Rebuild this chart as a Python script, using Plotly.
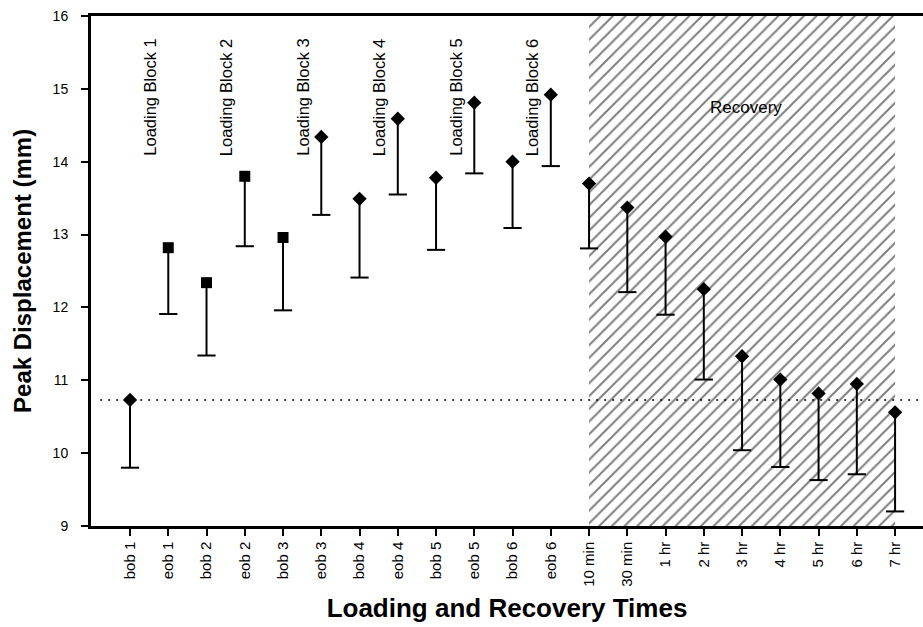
import plotly.graph_objects as go

# Time points along the loading / recovery protocol
categories = ["bob 1", "eob 1", "bob 2", "eob 2", "bob 3", "eob 3",
              "bob 4", "eob 4", "bob 5", "eob 5", "bob 6", "eob 6",
              "10 min", "30 min", "1 hr", "2 hr", "3 hr", "4 hr",
              "5 hr", "6 hr", "7 hr"]

# Mean peak displacement (mm) and lower end of the error bar (mm)
peak_mean = [10.73, 12.82, 12.34, 13.80, 12.96, 14.34,
             13.49, 14.59, 13.78, 14.81, 14.00, 14.92,
             13.70, 13.37, 12.97, 12.25, 11.33, 11.01,
             10.82, 10.95, 10.56]
peak_low = [9.80, 11.91, 11.34, 12.84, 11.96, 13.27,
            12.41, 13.55, 12.79, 13.84, 13.09, 13.94,
            12.81, 12.21, 11.90, 11.01, 10.04, 9.81,
            9.63, 9.71, 9.20]

# Marker style per point
marker_symbols = ["diamond", "square", "square", "square", "square", "diamond",
                  "diamond", "diamond", "diamond", "diamond", "diamond", "diamond",
                  "diamond", "diamond", "diamond", "diamond", "diamond", "diamond",
                  "diamond", "diamond", "diamond"]

block_labels = ["Loading Block 1", "Loading Block 2", "Loading Block 3",
                "Loading Block 4", "Loading Block 5", "Loading Block 6"]
recovery_label = "Recovery"
x_title = "Loading and Recovery Times"
y_title = "Peak Displacement (mm)"

baseline = peak_mean[0]
xi = list(range(len(categories)))
rec_start = categories.index("10 min")
rec_end = categories.index("7 hr")

fig = go.Figure()

# Hatched recovery period
fig.add_trace(go.Scatter(
    x=[rec_start, rec_end, rec_end, rec_start, rec_start],
    y=[9, 9, 16, 16, 9],
    mode="lines", fill="toself", line=dict(width=0, color="rgba(0,0,0,0)"),
    fillcolor="white",
    fillpattern=dict(shape="/", fgcolor="black", bgcolor="white",
                     size=9, solidity=0.22),
    hoverinfo="skip", showlegend=False))

# Baseline (bob 1) reference line
fig.add_trace(go.Scatter(
    x=[-0.78, 20.73], y=[baseline, baseline], mode="lines",
    line=dict(color="black", width=1.6, dash="2px,6px"),
    hoverinfo="skip", showlegend=False))

# Lower error bar stems
stem_x, stem_y = [], []
for i, (m, lo) in enumerate(zip(peak_mean, peak_low)):
    stem_x += [i, i, None]
    stem_y += [m, lo, None]
fig.add_trace(go.Scatter(
    x=stem_x, y=stem_y, mode="lines",
    line=dict(color="black", width=2), hoverinfo="skip", showlegend=False))

# Error bar caps
fig.add_trace(go.Scatter(
    x=xi, y=peak_low, mode="markers",
    marker=dict(symbol="line-ew", size=13, line=dict(color="black", width=2)),
    hoverinfo="skip", showlegend=False))

# Means
fig.add_trace(go.Scatter(
    x=xi, y=peak_mean, mode="markers",
    marker=dict(symbol=marker_symbols, size=11, color="black",
                line=dict(width=0)),
    showlegend=False))

# Block labels between each bob/eob pair
for k, label in enumerate(block_labels):
    fig.add_annotation(
        x=2 * k + 0.5, y=14.05, text=label, textangle=-90, showarrow=False,
        xanchor="center", yanchor="bottom",
        font=dict(family="Liberation Sans, Arial", size=16.5, color="black"))

fig.add_annotation(
    x=(rec_start + rec_end) / 2 + 0.1, y=14.75, text=recovery_label, showarrow=False,
    xanchor="center", yanchor="middle",
    font=dict(family="Liberation Sans, Arial", size=17, color="black"))

# Vertical axis title
fig.add_annotation(
    xref="paper", yref="paper", x=-0.083, y=0.5,
    text="<b>" + y_title + "</b>", textangle=-90, showarrow=False,
    xanchor="center", yanchor="middle",
    font=dict(family="Liberation Sans, Arial", size=24, color="black"))

fig.update_layout(
    width=923, height=627,
    margin=dict(l=91, r=0, t=16, b=101),
    paper_bgcolor="white", plot_bgcolor="white",
    font=dict(family="Liberation Sans, Arial", color="black"),
    showlegend=False,
)

fig.update_xaxes(
    range=[-1.02, 20.73], tickmode="array", tickvals=xi, ticktext=categories,
    tickangle=-90, ticks="outside", ticklen=7, tickwidth=1.5, tickcolor="black",
    tickfont=dict(size=15, family="Liberation Sans, Arial"),
    showline=True, linewidth=2.5, linecolor="black", mirror=True,
    showgrid=False, zeroline=False,
    title=dict(text="<b>" + x_title + "</b>",
               font=dict(size=26, family="Liberation Sans, Arial"), standoff=14),
)

fig.update_yaxes(
    range=[9, 16], tickmode="array", tickvals=[9, 10, 11, 12, 13, 14, 15, 16],
    ticks="outside", ticklen=7, tickwidth=1.5, tickcolor="black",
    tickfont=dict(size=14, family="Liberation Sans, Arial"),
    ticklabelstandoff=10,
    showline=True, linewidth=3, linecolor="black",
    showgrid=False, zeroline=False,
)

fig.write_html("out.html")
